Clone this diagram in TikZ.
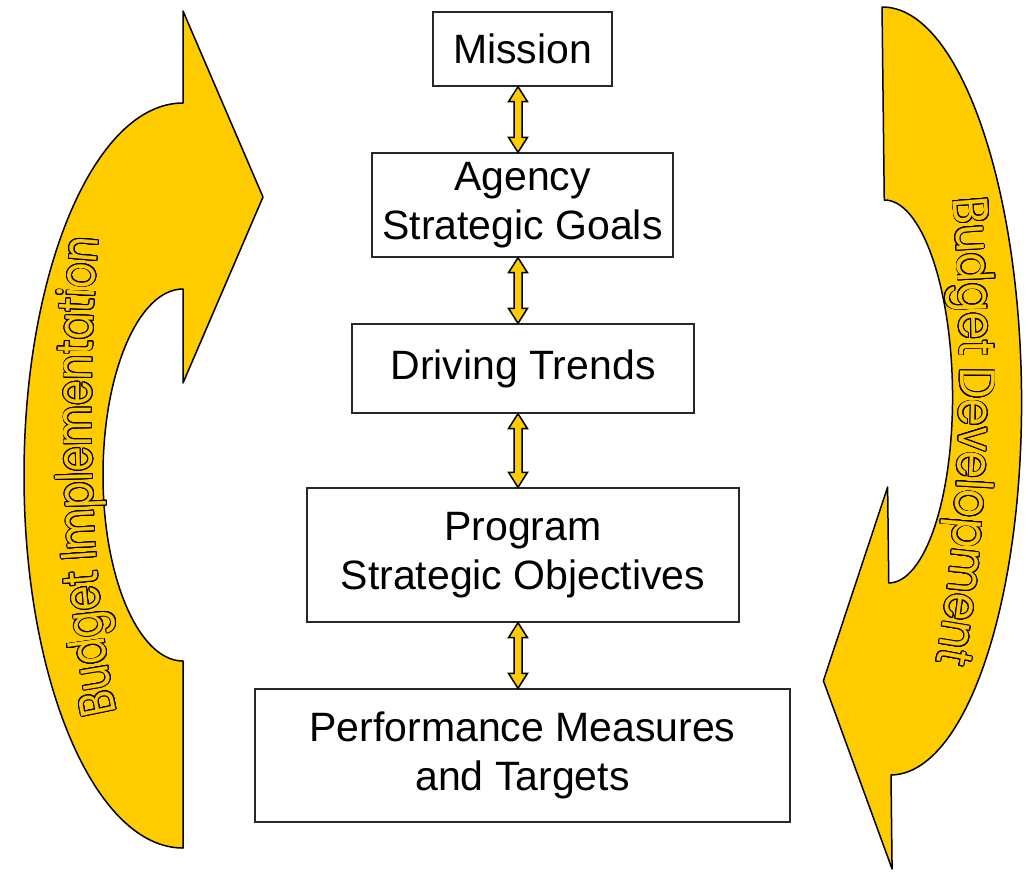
\documentclass[tikz,border=0pt]{standalone}
\usepackage{fontspec}
\setmainfont{Liberation Sans}
\newfontfamily\artL[FakeStretch=0.8]{Poppins}
\newfontfamily\artR[FakeStretch=0.88]{Poppins}
\usepackage{contour}
\contourlength{0.9pt}
\contournumber{24}
\usetikzlibrary{calc,decorations.text}
\definecolor{gold}{RGB}{255,204,0}
\definecolor{edge}{RGB}{40,40,40}

% each letter of the curved captions: gold with a black rim
\newcommand\outlinechar[1]{\contour{black}{#1}}

\tikzset{
  stage/.style={draw=edge, line width=1.4pt, inner sep=0pt, align=center,
    font=\fontsize{41}{48.5}\selectfont},
  cyclearrow/.style={fill=gold, draw=black, line width=1.5pt, line join=round},
  link/.style={fill=gold, draw=black, line width=1.5pt, line join=miter},
}

% double-headed block arrow between two stacked boxes
\newcommand\linkarrow[2]{%
  \path (#1.south -| ax) coordinate (p1) (#2.north -| ax) coordinate (p2);
  \draw[link] (p1) -- ++(9.5,-15) -- ++(-5.5,0) -- ($(p2)+(4,15)$)
    -- ++(5.5,0) -- (p2) -- ++(-9.5,15) -- ++(5.5,0)
    -- ($(p1)+(-4,-15)$) -- ++(-5.5,0) -- cycle;}

\begin{document}
\begin{tikzpicture}[x=1pt,y=1pt]
\useasboundingbox (0,0) rectangle (1027,-871);

% left curved arrow (Budget Implementation)
\draw[cyclearrow] (183,-103)
  arc[start angle=90, end angle=270, x radius=159, y radius=372.5]
  -- (183,-661)
  arc[start angle=270, end angle=90, x radius=80, y radius=186]
  -- (183,-383) -- (263,-197) -- (183,-11) -- cycle;

% right curved arrow (Budget Development)
\begin{scope}[rotate around={0.67:(886.5,-391)}]
\draw[cyclearrow] (886.5,-7)
  arc[start angle=90, end angle=-90, x radius=135, y radius=384]
  -- (886.5,-869) -- (820,-680) -- (886.5,-487) -- (886.5,-583)
  arc[start angle=-90, end angle=90, x radius=66, y radius=191.5]
  -- cycle;
\end{scope}

% captions along the curved arrows
\path[decorate, decoration={text effects along path,
    text={Budget Implementation}, text align=center,
    text effects/.cd, text along path,
    characters={text=gold, anchor=base, font=\artL\fontsize{50}{50}\selectfont},
    character command=\outlinechar}]
  (120,-725) .. controls (85,-590) and (88,-330) .. (100,-225);

\path[decorate, decoration={text effects along path,
    text={Budget Development}, text align=center,
    text effects/.cd, text along path,
    characters={text=gold, anchor=base, font=\artR\fontsize{50}{50}\selectfont},
    character command=\outlinechar}]
  (950,-170) .. controls (968,-330) and (962,-560) .. (930,-690);

% stages
\node[stage, minimum width=179, minimum height=74]  (mis) at (522.5,-49)   {Mission};
\node[stage, minimum width=301, minimum height=104] (asg) at (522.5,-205)  {Agency\\Strategic Goals};
\node[stage, minimum width=342, minimum height=89]  (drv) at (523,-368.5)  {Driving Trends};
\node[stage, minimum width=432, minimum height=134] (pso) at (523,-555)    {Program\\Strategic Objectives};
\node[stage, minimum width=535, minimum height=133] (pmt) at (522.5,-755.5){Performance Measures\\and Targets};

\coordinate (ax) at (518,0);
\linkarrow{mis}{asg}
\linkarrow{asg}{drv}
\linkarrow{drv}{pso}
\linkarrow{pso}{pmt}
\end{tikzpicture}
\end{document}
